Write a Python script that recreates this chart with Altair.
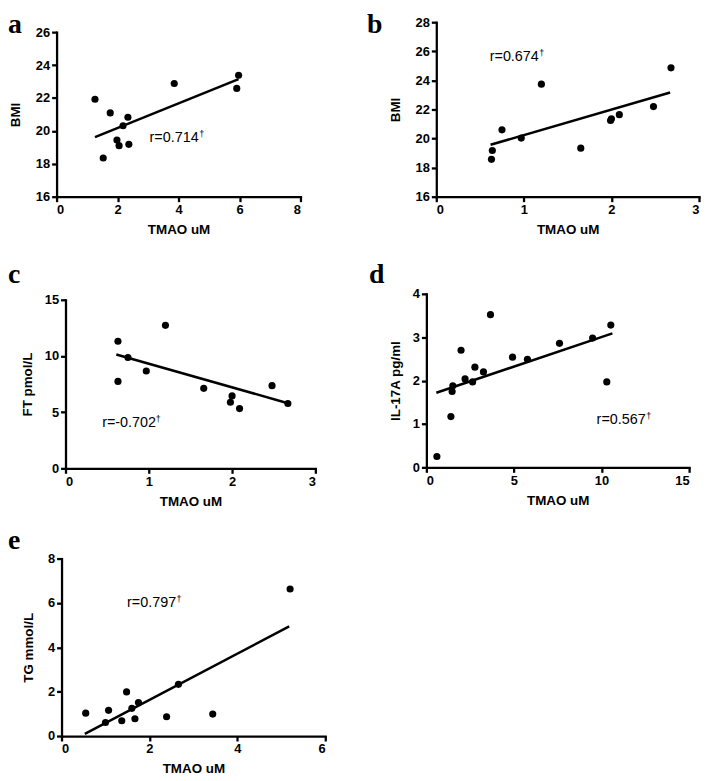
import altair as alt
import pandas as pd

FONT = "Liberation Sans"
SERIF = "Liberation Serif"
W, H = 276, 182

# ---------------- data ----------------
# a: BMI vs TMAO
a_x = [1.26, 1.76, 2.34, 2.18, 1.98, 2.05, 2.37, 1.53, 3.86, 5.97, 5.91]
a_y = [21.92, 21.09, 20.83, 20.31, 19.44, 19.10, 19.18, 18.35, 22.88, 23.38, 22.58]
a_fit_x = [1.26, 5.97]
a_fit_y = [19.62, 23.14]

# b: BMI vs TMAO
b_x = [0.63, 0.64, 0.75, 0.97, 1.20, 1.65, 1.99, 2.00, 2.09, 2.48, 2.68]
b_y = [18.57, 19.18, 20.60, 20.03, 23.74, 19.34, 21.24, 21.36, 21.64, 22.20, 24.86]
b_fit_x = [0.62, 2.67]
b_fit_y = [19.57, 23.17]

# c: FT vs TMAO
c_x = [0.63, 0.63, 0.75, 0.97, 1.20, 1.66, 2.00, 1.98, 2.09, 2.48, 2.67]
c_y = [11.31, 7.74, 9.87, 8.66, 12.73, 7.12, 6.45, 5.88, 5.32, 7.36, 5.77]
c_fit_x = [0.61, 2.67]
c_fit_y = [10.13, 5.80]

# d: IL-17A vs TMAO
d_x = [0.60, 1.40, 1.47, 1.51, 1.98, 2.21, 2.64, 2.77, 3.26, 3.66, 4.92, 5.77, 7.60, 9.49, 10.30, 10.53]
d_y = [0.25, 1.17, 1.75, 1.88, 2.70, 2.04, 1.97, 2.31, 2.20, 3.52, 2.54, 2.49, 2.86, 2.98, 1.97, 3.28]
d_fit_x = [0.57, 10.62]
d_fit_y = [1.72, 3.09]

# e: TG vs TMAO
e_x = [0.55, 1.00, 1.07, 1.37, 1.48, 1.60, 1.67, 1.75, 2.39, 2.66, 3.44, 5.20]
e_y = [1.03, 0.61, 1.16, 0.69, 1.99, 1.25, 0.78, 1.51, 0.87, 2.33, 0.99, 6.63]
e_fit_x = [0.53, 5.18]
e_fit_y = [0.10, 4.94]

notes = ["r=0.714", "r=0.674", "r=-0.702", "r=0.567", "r=0.797"]
note_x = [3.05, 0.61, 0.44, 9.72, 1.49]
note_y = [19.55, 25.6, 4.03, 1.10, 6.0]
letters = ["a", "b", "c", "d", "e"]
y_titles = ["BMI", "BMI", "FT pmol/L", "IL-17A pg/ml", "TG mmol/L"]
x_title = "TMAO uM"


def panel(px, py, fx, fy, xdom, xticks, ydom, yticks, ytitle, xrng, yrng,
          note, nx, ny, dag_dx, letter, lx, ly, ytp):
    pts = pd.DataFrame({"x": px, "y": py})
    fit = pd.DataFrame({"x": fx, "y": fy})
    nt = pd.DataFrame({"x": [nx], "y": [ny], "t": [note], "d": ["\u2020"]})
    lt = pd.DataFrame({"t": [letter]})
    xs = alt.Scale(domain=xdom, range=xrng, nice=False, zero=False)
    ys = alt.Scale(domain=ydom, range=yrng, nice=False, zero=False)
    xax = alt.Axis(values=xticks, title=x_title, offset=-(H - yrng[0]),
                   format="d", titlePadding=6)
    yax = alt.Axis(values=yticks, title=ytitle, offset=-xrng[0],
                   format="d", titlePadding=ytp)
    X = alt.X("x:Q", scale=xs, axis=xax)
    Y = alt.Y("y:Q", scale=ys, axis=yax)
    line = alt.Chart(fit).mark_line(color="black", strokeWidth=2.5).encode(x=X, y=Y)
    dots = alt.Chart(pts).mark_circle(size=52, color="black", opacity=1).encode(x=X, y=Y)
    txt = alt.Chart(nt).mark_text(font=FONT, fontSize=14.5, align="left",
                                  baseline="middle", color="black").encode(x=X, y=Y, text="t:N")
    dag = alt.Chart(nt).mark_text(font=FONT, fontSize=9, align="left", baseline="middle",
                                  dx=dag_dx, dy=-4, color="black").encode(x=X, y=Y, text="d:N")
    let = alt.Chart(lt).mark_text(font=SERIF, fontSize=28, fontWeight="bold", align="left",
                                  baseline="top", color="black").encode(
        x=alt.value(lx), y=alt.value(ly), text="t:N")
    return alt.layer(line, dots, txt, dag, let).properties(width=W, height=H)


pa = panel(a_x, a_y, a_fit_x, a_fit_y, [0, 8], [0, 2, 4, 6, 8], [16, 26], [16, 18, 20, 22, 24, 26],
           y_titles[0], [0, 246], [180, 14], notes[0], note_x[0], note_y[0], 50, letters[0], -49, -7, 13)
pb = panel(b_x, b_y, b_fit_x, b_fit_y, [0, 3], [0, 1, 2, 3], [16, 28], [16, 18, 20, 22, 24, 26, 28],
           y_titles[1], [10, 275], [180, 4], notes[1], note_x[1], note_y[1], 50, letters[1], -60, -7, 13)
pc = panel(c_x, c_y, c_fit_x, c_fit_y, [0, 3], [0, 1, 2, 3], [0, 15], [0, 5, 10, 15],
           y_titles[2], [9, 261], [182, 12], notes[2], note_x[2], note_y[2], 54, letters[2], -49, -27, 10)
pd_ = panel(d_x, d_y, d_fit_x, d_fit_y, [0, 15], [0, 5, 10, 15], [0, 4], [0, 1, 2, 3, 4],
            y_titles[3], [0, 265], [181, 6], notes[3], note_x[3], note_y[3], 50, letters[3], -58, -27, 10)
pe = panel(e_x, e_y, e_fit_x, e_fit_y, [0, 6], [0, 2, 4, 6], [0, 8], [0, 2, 4, 6, 8],
           y_titles[4], [5, 271], [180, 1], notes[4], note_x[4], note_y[4], 50, letters[4], -49, -31, 12)

chart = alt.concat(pa, pb, pc, pd_, pe, columns=2, spacing={"row": 90, "column": 97},
                   bounds="flush").properties(padding=0).configure_view(stroke=None).configure_axis(
    grid=False, domainColor="black", domainWidth=2.3, tickColor="black", tickWidth=2.3, tickSize=5,
    labelFont=FONT, labelFontWeight="bold", labelFontSize=13, labelColor="black", labelPadding=2,
    titleFont=FONT, titleFontWeight="bold", titleFontSize=13.5, titleColor="black",
    domainCap="square"
)

chart.save("out.html", embed_options={"renderer": "svg", "actions": False})
